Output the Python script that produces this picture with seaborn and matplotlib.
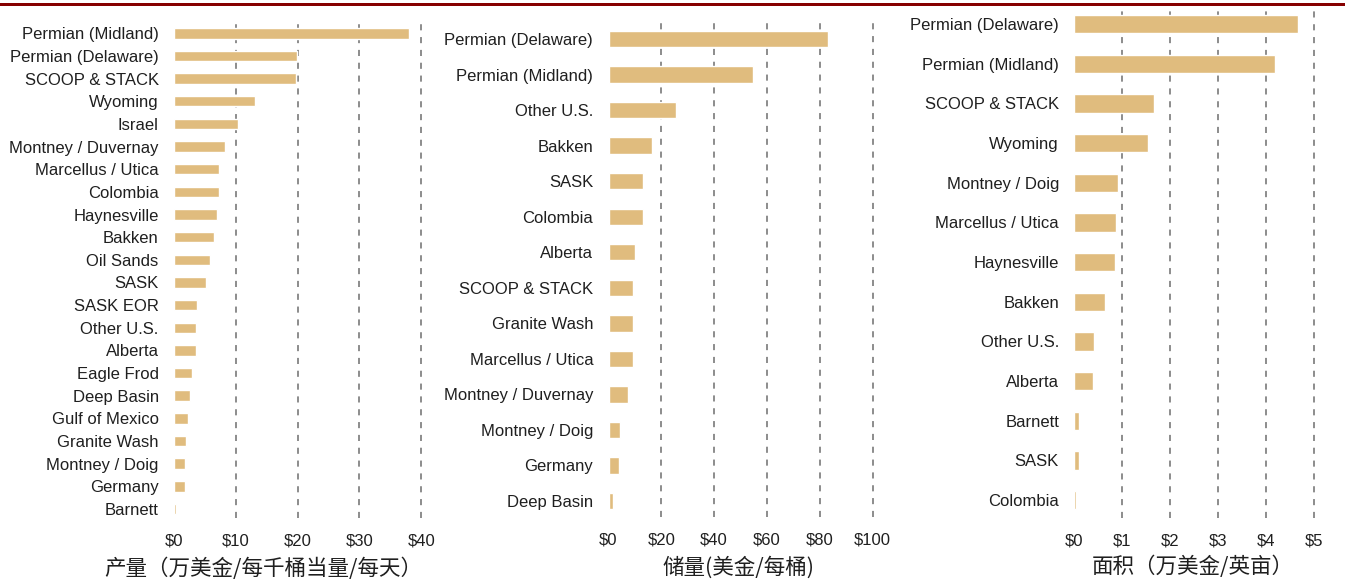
import matplotlib
matplotlib.use("Agg")
import matplotlib.pyplot as plt
import seaborn as sns
from matplotlib.patches import Rectangle

# ---- data ----------------------------------------------------------------
prod_basins = ["Permian (Midland)", "Permian (Delaware)", "SCOOP & STACK", "Wyoming",
               "Israel", "Montney / Duvernay", "Marcellus / Utica", "Colombia",
               "Haynesville", "Bakken", "Oil Sands", "SASK", "SASK EOR", "Other U.S.",
               "Alberta", "Eagle Frod", "Deep Basin", "Gulf of Mexico", "Granite Wash",
               "Montney / Doig", "Germany", "Barnett"]
prod_values = [38.0, 19.9, 19.7, 13.1, 10.3, 8.3, 7.3, 7.3, 7.0, 6.5, 5.9, 5.2,
               3.8, 3.5, 3.5, 2.9, 2.6, 2.2, 2.0, 1.7, 1.7, 0.3]
prod_ticks = [0, 10, 20, 30, 40]
prod_label = "产量（万美金/每千桶当量/每天）"

resv_basins = ["Permian (Delaware)", "Permian (Midland)", "Other U.S.", "Bakken", "SASK",
               "Colombia", "Alberta", "SCOOP & STACK", "Granite Wash", "Marcellus / Utica",
               "Montney / Duvernay", "Montney / Doig", "Germany", "Deep Basin"]
resv_values = [83.3, 54.9, 25.4, 16.3, 12.9, 12.9, 10.1, 9.2, 9.2, 9.2, 7.2, 4.5, 3.8, 1.6]
resv_ticks = [0, 20, 40, 60, 80, 100]
resv_label = "储量(美金/每桶)"

area_basins = ["Permian (Delaware)", "Permian (Midland)", "SCOOP & STACK", "Wyoming",
               "Montney / Doig", "Marcellus / Utica", "Haynesville", "Bakken",
               "Other U.S.", "Alberta", "Barnett", "SASK", "Colombia"]
area_values = [4.66, 4.19, 1.65, 1.54, 0.91, 0.87, 0.85, 0.64, 0.41, 0.38, 0.10, 0.10, 0.03]
area_ticks = [0, 1, 2, 3, 4, 5]
area_label = "面积（万美金/英亩）"

# ---- style ---------------------------------------------------------------
BAR = "#E0BC7E"
TEXT = "#1f1f1f"
GRID = "#6e6e6e"

sns.set_theme(style="white")
plt.rcParams["font.family"] = ["Liberation Sans", "Noto Sans CJK SC", "DejaVu Sans"]

W, H = 1345, 580
fig = plt.figure(figsize=(W / 100, H / 100), dpi=100)
fig.patch.set_facecolor("white")

# dark red rule across the top
fig.add_artist(Rectangle((0, 1 - 6 / H), 1, 3 / H, transform=fig.transFigure,
                         facecolor="#860000", edgecolor="none"))


def px_axes(left, top, width, height):
    return fig.add_axes([left / W, 1 - (top + height) / H, width / W, height / H])


panels = [
    # cats, vals, ticks, xmax, label, box(l, t, w, h), ylim, label pos
    (prod_basins, prod_values, prod_ticks, 41, prod_label,
     (174, 22, 253.4, 496), (21.4, -0.5), (0.354, -0.103)),
    (resv_basins, resv_values, resv_ticks, 102, resv_label,
     (608.5, 22, 269.3, 495), (13.45, -0.48), (0.481, -0.103)),
    (area_basins, area_values, area_ticks, 5.1, area_label,
     (1074.3, 4.2, 244.8, 513.8), (12.45, -0.5), (0.485, -0.095)),
]

for cats, vals, ticks, xmax, label, box, ylim, lpos in panels:
    ax = px_axes(*box)
    sns.barplot(x=vals, y=cats, orient="h", color=BAR, saturation=1,
                width=0.46, ax=ax, zorder=2)
    for t in ticks[1:]:
        ax.axvline(t, color=GRID, lw=1.1, linestyle=(0, (4.0, 4.4)), zorder=0)
    ax.set_xlim(0, xmax)
    ax.set_ylim(*ylim)
    ax.set_xticks(ticks)
    ax.set_xticklabels([f"${t:g}" for t in ticks])
    ax.tick_params(axis="y", length=0, pad=11, labelsize=12, labelcolor=TEXT)
    ax.tick_params(axis="x", length=0, pad=11, labelsize=12, labelcolor=TEXT)
    ax.set_ylabel("")
    ax.set_xlabel(label, fontsize=15.5, color=TEXT,
                  family=["Noto Sans CJK SC", "DejaVu Sans"])
    ax.xaxis.set_label_coords(*lpos)
    ax.xaxis.label.set_va("center")
    sns.despine(ax=ax, left=True, bottom=True)
    ax.set_facecolor("none")

fig.savefig("out.png", dpi=100, facecolor="white")
